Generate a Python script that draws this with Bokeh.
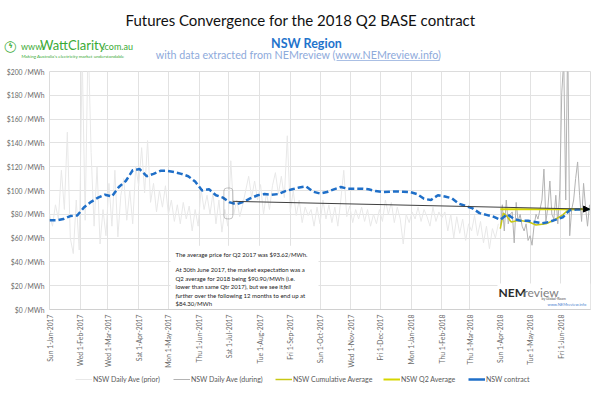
import numpy as np
import pandas as pd
from bokeh.plotting import figure
from bokeh.layouts import column
from bokeh.models import (FixedTicker, Label, BoxAnnotation, Arrow, NormalHead,
                          Legend, LegendItem, Range1d)
from bokeh.embed import file_html
from bokeh.resources import INLINE

# ---------------- data ----------------
ORIGIN = pd.Timestamp("2017-01-01")

# NSW daily average price (prior to Q2 2018), one value every 3 days from 1-Jan-2017
prior_start = "2017-01-01"
prior_step_days = 3
prior_values = [
    80, 70, 88, 76, 117, 84, 149, 60, 47, 92,
    50, 215, 75, 230, 132, 70, 120, 55, 84, 62,
    106, 70, 117, 61, 96, 110, 75, 100, 72, 120,
    104, 136, 98, 142, 90, 106, 82, 100, 86, 104,
    80, 92, 74, 88, 72, 90, 76, 87, 66, 84,
    70, 101, 84, 96, 80, 98, 72, 92, 65, 84,
    70, 125, 80, 92, 78, 88, 100, 112, 94, 108,
    92, 105, 80, 98, 84, 104, 115, 97, 112, 94,
    146, 82, 100, 79, 92, 73, 86, 79, 84, 70,
    86, 72, 92, 76, 88, 73, 86, 70, 92, 117,
    78, 87, 73, 84, 76, 86, 74, 84, 70, 80,
    72, 84, 74, 92, 80, 90, 73, 86, 76, 55,
    80, 73, 82, 76, 86, 74, 84, 78, 70, 86,
    74, 82, 77, 82, 66, 80, 60, 78, 64, 76,
    58, 72, 66, 79, 62, 74, 56, 70, 51, 68,
    60, 72,
]

# NSW daily average price during Q2 2018, one value every 2 days from 1-Apr-2018
during_start = "2018-04-01"
during_step_days = 2
during_values = [
    68, 88, 66, 92, 72, 80, 82, 56, 90, 74,
    80, 70, 66, 72, 58, 62, 54, 70, 80, 76,
    84, 92, 118, 74, 86, 108, 80, 76, 96, 72,
    100, 182, 210, 92, 230, 62, 84, 92, 110, 124,
    96, 74, 106, 86, 70, 88,
]

# NSW Q2 2018 BASE contract price, weekly from 1-Jan-2017
contract_start = "2017-01-01"
contract_step_days = 7
contract_values = [
    75, 75, 76, 78.5, 79, 86, 90.5, 94, 96.5, 95,
    103, 108, 117, 118, 112, 114, 116.5, 116.5, 115.5, 114,
    112, 107.5, 100, 101, 96, 94, 90, 88.5, 90.5, 93.5,
    96, 97, 96.5, 97, 99.5, 101, 102.5, 103.4, 99, 97.5,
    98.7, 101, 103, 101.5, 101.5, 101.5, 101, 99.5, 98.7, 99,
    99.2, 99, 98.7, 97, 93, 92, 96, 95, 93.5, 89,
    87, 85, 81, 79.5, 78, 75.5, 80, 76, 74.5, 74.5,
    73.5, 72.5, 73.5, 75.5, 77.5, 83.5, 84, 84.2, 84.3,
]

# NSW cumulative average through Q2 2018
cum_dates = ["2018-04-01", "2018-04-04", "2018-04-07", "2018-04-12", "2018-04-20",
             "2018-04-30", "2018-05-07", "2018-05-17", "2018-05-25", "2018-06-03",
             "2018-06-09", "2018-06-20", "2018-06-30"]
cum_values = [68, 81, 79, 73.5, 75, 73.5, 71, 72, 75, 79.5, 84, 84.2, 84.3]

# NSW Q2 2018 average
q2_dates = ["2018-04-01", "2018-06-30"]
q2_average = 84.30

expectation_date = "2017-07-01"
expectation_value = 90.90
final_date = "2018-06-30"

month_ticks = pd.date_range("2017-01-01", "2018-06-01", freq="MS")
y_ticks = list(range(0, 201, 20))

legend_labels = ["NSW Daily Ave (prior)", "NSW Daily Ave (during)",
                 "NSW Cumulative Average", "NSW Q2 Average", "NSW contract"]

note_lines = [
    "The average price for Q2 2017 was $93.62/MWh.",
    "At 30th June 2017, the market expectation was a",
    "Q2 average for 2018 being $90.90/MWh (i.e.",
    "lower than same Qtr 2017), but we see it",
    "over the following 12 months to end up at",
    "$84.30/MWh",
]


def day(d):
    return (pd.Timestamp(d) - ORIGIN).days


def series_x(start, step, n):
    s = day(start)
    return [s + step * i for i in range(n)]


prior_x = series_x(prior_start, prior_step_days, len(prior_values))
during_x = series_x(during_start, during_step_days, len(during_values))
contract_x = series_x(contract_start, contract_step_days, len(contract_values))
cum_x = [day(d) for d in cum_dates]
q2_x = [day(d) for d in q2_dates]
tick_days = [day(d) for d in month_ticks]
tick_labels = {day(d): f"{d.strftime('%a')} {d.day}-{d.strftime('%b-%Y')}" for d in month_ticks}
X_END = day("2018-07-01")

FONT = "Lato"
W, H = 604, 396
HEAD_BOT, MAIN_BOT = 64, 370

# ---------------- header (own root, full-width frame) ----------------
head = figure(width=W, height=HEAD_BOT, x_range=Range1d(0, W),
              y_range=Range1d(HEAD_BOT, 0), x_axis_type=None, y_axis_type=None,
              min_border=0, output_backend="svg", toolbar_location=None,
              outline_line_color=None)
head.grid.visible = False


def hlab(text, X, Y, size, color, align="left", style="normal", font=FONT):
    head.add_layout(Label(x=X, y=Y, text=text, text_font=font, text_font_size=f"{size}px",
                          text_color=color, text_align=align, text_baseline="middle",
                          text_font_style=style))


hlab("Futures Convergence for the 2018 Q2 BASE contract", 300, 19, 15, "#111111", "center")
hlab("NSW Region", 306, 42.5, 12.5, "#1f74cc", "center", "bold")
hlab("with data extracted from NEMreview (www.NEMreview.info)", 298, 53.5, 10.7, "#8eaadb", "center")
head.add_layout(BoxAnnotation(left=336, right=439, bottom=60.3, top=59.4,
                              fill_color="#8eaadb", fill_alpha=1, line_alpha=0))
GREEN = "#3aaa35"
hlab("\u25EF", 10, 45.5, 11, GREEN, "center", font="DejaVu Sans")
hlab("\u03DF", 10, 45, 7, GREEN, "center", "bold", font="DejaVu Sans")
hlab("www.", 20.5, 45.5, 9, GREEN)
hlab("WattClarity", 39.5, 44, 13, GREEN)
hlab(".com.au", 102, 45.5, 9, GREEN)
hlab("Making Australia's electricity market understandable", 21, 56, 4.5, GREEN)

# ---------------- main chart ----------------
FL, FT, FB, FR = 49, 71, 310, 590
p = figure(width=W, height=MAIN_BOT - HEAD_BOT,
           min_border_left=FL, min_border_right=W - FR,
           min_border_top=FT - HEAD_BOT, min_border_bottom=MAIN_BOT - FB,
           x_range=Range1d(0, X_END), y_range=Range1d(0, 200),
           output_backend="svg", toolbar_location=None,
           background_fill_color="white", border_fill_color="white")
p.outline_line_color = "#dcdcdc"
FW, FH = FR - FL, FB - FT


def dx(X):
    return (X - FL) * X_END / FW


def dy(Y):
    return (FB - Y) * 200 / FH


p.xaxis.ticker = FixedTicker(ticks=tick_days)
p.xaxis.major_label_overrides = tick_labels
p.xaxis.major_label_orientation = np.pi / 2
p.yaxis.ticker = FixedTicker(ticks=y_ticks)
p.yaxis.major_label_overrides = {v: f"${v} /MWh" for v in y_ticks}
for ax in (p.xaxis[0], p.yaxis[0]):
    ax.major_tick_line_color = None
    ax.minor_tick_line_color = None
    ax.major_tick_out = 0
    ax.major_tick_in = 0
    ax.minor_tick_out = 0
    ax.major_label_text_font = FONT
    ax.major_label_text_font_size = "6.8px"
    ax.major_label_text_color = "#6a6a6a"
    ax.major_label_standoff = 5
p.xaxis.axis_line_color = "#d0d0d0"
p.yaxis.axis_line_color = None
p.xgrid.ticker = FixedTicker(ticks=tick_days)
p.ygrid.ticker = FixedTicker(ticks=y_ticks)
p.grid.grid_line_color = "#e2e2e2"

# white boxes under the note and the NEMreview logo
p.add_layout(BoxAnnotation(left=dx(170), right=dx(318), bottom=0, top=dy(246),
                           fill_color="white", fill_alpha=1, line_alpha=0, level="underlay"))
p.add_layout(BoxAnnotation(left=dx(497), right=X_END, bottom=0, top=dy(284),
                           fill_color="white", fill_alpha=1, line_alpha=0, level="underlay"))

PRIOR_C, DURING_C, Q2_C, CUM_C, CON_C = "#e8e8e8", "#b3b3b3", "#d6d600", "#c8c814", "#1f6fc8"
p.line(prior_x, prior_values, line_color=PRIOR_C, line_width=1)
p.line(during_x, during_values, line_color=DURING_C, line_width=1)
p.line(q2_x, [q2_average, q2_average], line_color=Q2_C, line_width=2)
p.line(cum_x, cum_values, line_color=CUM_C, line_width=1.5)
p.line(contract_x, contract_values, line_color=CON_C, line_width=2.5, line_dash="6 3")

rect_mid = day(expectation_date)
p.add_layout(BoxAnnotation(left=rect_mid - 5, right=rect_mid + 4, bottom=dy(219), top=dy(188),
                           fill_alpha=0, line_color="#404040", line_width=1, border_radius=3))
p.add_layout(Arrow(end=NormalHead(size=6, fill_color="black", line_color="black"),
                   x_start=rect_mid + 4, y_start=expectation_value,
                   x_end=day(final_date), y_end=q2_average,
                   line_color="#404040", line_width=1))


def lab(text, X, Y, size, color="#222222", align="left", style="normal", font=FONT):
    p.add_layout(Label(x=dx(X), y=dy(Y), text=text, text_font=font,
                       text_font_size=f"{size}px", text_color=color,
                       text_align=align, text_baseline="middle", text_font_style=style))


NS = 6
lab(note_lines[0], 175, 255, NS)
lab(note_lines[1], 175, 270, NS)
lab(note_lines[2], 175, 278.5, NS)
lab(note_lines[3], 175, 287, NS)
lab("fell", 283, 287, NS, style="italic")
lab("further", 175, 295.5, NS, style="italic")
lab(note_lines[4], 194, 295.5, NS)
lab(note_lines[5], 175, 304, NS)

lab("NEM", 498, 293, 12, "#2b2b2b", style="bold")
lab("review", 523, 293, 12, "#808080")
lab("by Global-Roam", 541, 299.5, 3.5, "#555555")
lab("www.NEMreview.info", 547, 305, 4, "#4a7fd0")

# ---------------- footer legend (frame aligned with the chart) ----------------
foot = figure(width=W, height=H - MAIN_BOT, x_range=Range1d(0, 1), y_range=Range1d(0, 1),
              x_axis_type=None, y_axis_type=None, min_border=0,
              output_backend="svg", toolbar_location=None, outline_line_color=None)
foot.grid.visible = False
leg_colors = [PRIOR_C, DURING_C, CUM_C, Q2_C, CON_C]
leg_widths = [1, 1, 1.5, 2, 2.5]
for lbl, c, w, X in zip(legend_labels, leg_colors, leg_widths, [75, 173, 275, 383, 468]):
    r = foot.line(x=[0.5], y=[float("nan")], line_color=c, line_width=w)
    lg = Legend(items=[LegendItem(label=lbl, renderers=[r])], location=(X - FL, H - 384),
                orientation="horizontal", padding=0, margin=0, spacing=0,
                border_line_alpha=0, background_fill_alpha=0,
                glyph_width=17, glyph_height=10, label_height=10, label_standoff=1,
                label_text_font=FONT, label_text_font_size="7px",
                label_text_color="#595959")
    foot.add_layout(lg)

body = column(p, foot, spacing=0)
open("out.html", "w").write(file_html([head, body], INLINE))
